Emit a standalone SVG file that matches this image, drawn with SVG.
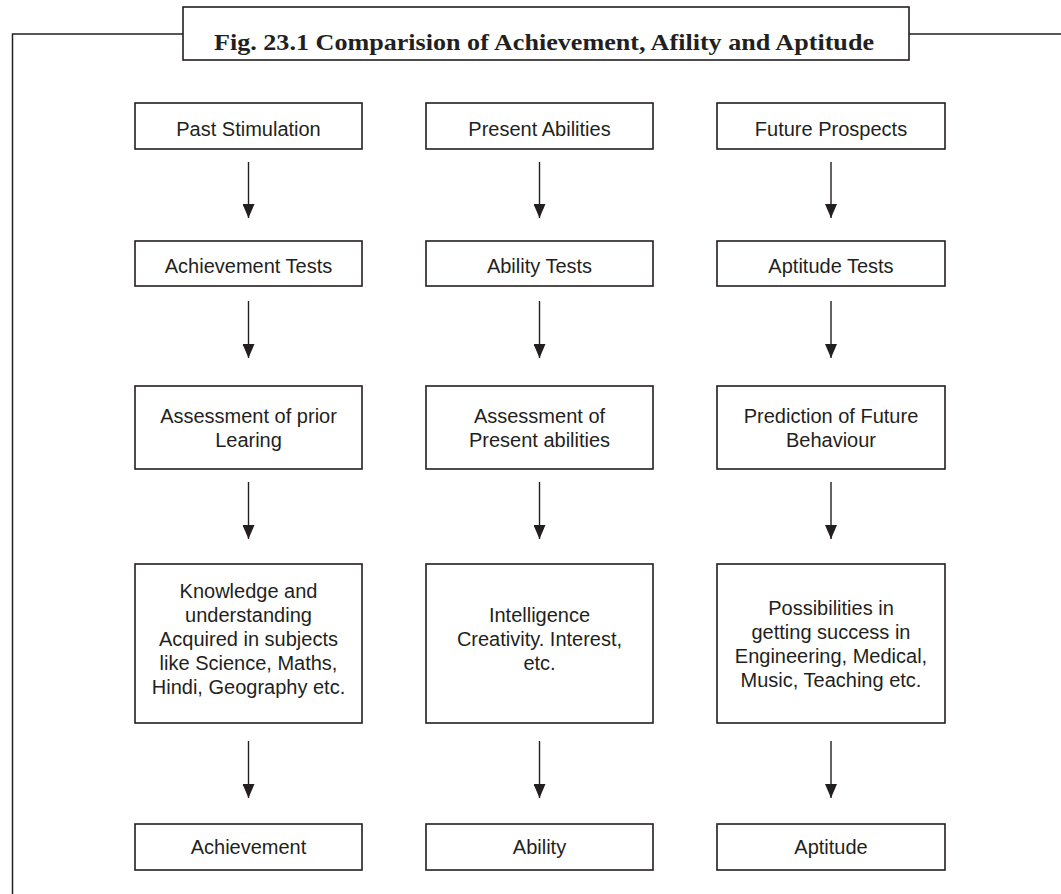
<svg xmlns="http://www.w3.org/2000/svg" width="1061" height="894" viewBox="0 0 1061 894">
<defs>
<marker id="ah" markerWidth="14" markerHeight="12" refX="14" refY="6" orient="auto" markerUnits="userSpaceOnUse">
<path d="M0,0 L14,6 L0,12 Z" fill="#231f20"/>
</marker>
<style>
.box{fill:#fff;stroke:#231f20;stroke-width:1.6}
.t{font-family:"Liberation Sans",Arial,sans-serif;font-size:20px;fill:#231f20;text-anchor:middle}
.title{font-family:"Liberation Serif","Times New Roman",serif;font-size:23px;font-weight:bold;fill:#231f20}
.frame{fill:none;stroke:#231f20;stroke-width:1.5}
.arr{stroke:#231f20;stroke-width:1.4;fill:none;marker-end:url(#ah)}
</style>
</defs>
<rect width="1061" height="894" fill="#fff"/>
<g id="frame">
<polyline class="frame" points="12.5,894 12.5,34 183,34"/>
<line class="frame" x1="909" y1="34" x2="1061" y2="34"/>
</g>
<g id="title">
<rect class="box" x="183" y="7" width="726" height="53"/>
<text class="title" x="214" y="50" textLength="660" lengthAdjust="spacingAndGlyphs">Fig. 23.1 Comparision of Achievement, Afility and Aptitude</text>
</g>
<g id="connectors">
<line class="arr" x1="248.5" y1="162" x2="248.5" y2="218"/>
<line class="arr" x1="539.5" y1="162" x2="539.5" y2="218"/>
<line class="arr" x1="831" y1="162" x2="831" y2="218"/>
<line class="arr" x1="248.5" y1="301" x2="248.5" y2="358"/>
<line class="arr" x1="539.5" y1="301" x2="539.5" y2="358"/>
<line class="arr" x1="831" y1="301" x2="831" y2="358"/>
<line class="arr" x1="248.5" y1="482" x2="248.5" y2="539"/>
<line class="arr" x1="539.5" y1="482" x2="539.5" y2="539"/>
<line class="arr" x1="831" y1="482" x2="831" y2="539"/>
<line class="arr" x1="248.5" y1="741" x2="248.5" y2="798"/>
<line class="arr" x1="539.5" y1="741" x2="539.5" y2="798"/>
<line class="arr" x1="831" y1="741" x2="831" y2="798"/>
</g>
<g id="past-stimulation"><rect class="box" x="135" y="103" width="227" height="46"/><text class="t" x="248.5" y="136">Past Stimulation</text></g>
<g id="present-abilities"><rect class="box" x="426" y="103" width="227" height="46"/><text class="t" x="539.5" y="136">Present Abilities</text></g>
<g id="future-prospects"><rect class="box" x="717" y="103" width="228" height="46"/><text class="t" x="831" y="136">Future Prospects</text></g>
<g id="achievement-tests"><rect class="box" x="135" y="241" width="227" height="45"/><text class="t" x="248.5" y="273">Achievement Tests</text></g>
<g id="ability-tests"><rect class="box" x="426" y="241" width="227" height="45"/><text class="t" x="539.5" y="273">Ability Tests</text></g>
<g id="aptitude-tests"><rect class="box" x="717" y="241" width="228" height="45"/><text class="t" x="831" y="273">Aptitude Tests</text></g>
<g id="assessment-prior"><rect class="box" x="135" y="386" width="227" height="83"/><text class="t" x="248.5" y="423">Assessment of prior</text><text class="t" x="248.5" y="447">Learing</text></g>
<g id="assessment-present"><rect class="box" x="426" y="386" width="227" height="83"/><text class="t" x="539.5" y="423">Assessment of</text><text class="t" x="539.5" y="447">Present abilities</text></g>
<g id="prediction"><rect class="box" x="717" y="386" width="228" height="83"/><text class="t" x="831" y="423">Prediction of Future</text><text class="t" x="831" y="447">Behaviour</text></g>
<g id="knowledge"><rect class="box" x="135" y="564" width="227" height="159"/>
<text class="t" x="248.5" y="598">Knowledge and</text>
<text class="t" x="248.5" y="622">understanding</text>
<text class="t" x="248.5" y="646">Acquired in subjects</text>
<text class="t" x="248.5" y="670">like Science, Maths,</text>
<text class="t" x="248.5" y="694">Hindi, Geography etc.</text></g>
<g id="intelligence"><rect class="box" x="426" y="564" width="227" height="159"/>
<text class="t" x="539.5" y="622">Intelligence</text>
<text class="t" x="539.5" y="646">Creativity. Interest,</text>
<text class="t" x="539.5" y="670">etc.</text></g>
<g id="possibilities"><rect class="box" x="717" y="564" width="228" height="159"/>
<text class="t" x="831" y="615">Possibilities in</text>
<text class="t" x="831" y="639">getting success in</text>
<text class="t" x="831" y="663">Engineering, Medical,</text>
<text class="t" x="831" y="687">Music, Teaching etc.</text></g>
<g id="achievement"><rect class="box" x="135" y="824" width="227" height="46"/><text class="t" x="248.5" y="854">Achievement</text></g>
<g id="ability"><rect class="box" x="426" y="824" width="227" height="46"/><text class="t" x="539.5" y="854">Ability</text></g>
<g id="aptitude"><rect class="box" x="717" y="824" width="228" height="46"/><text class="t" x="831" y="854">Aptitude</text></g>
</svg>
